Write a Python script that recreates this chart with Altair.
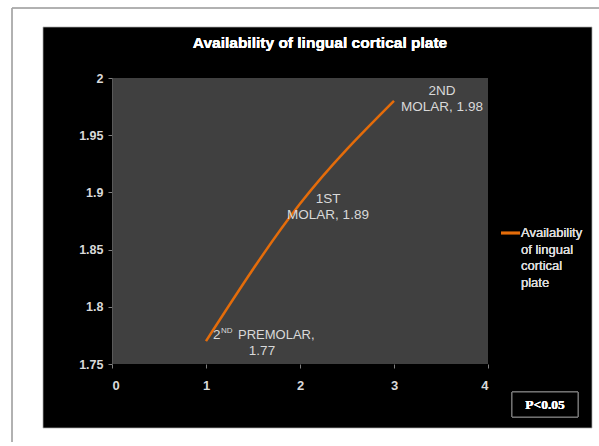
import altair as alt
import pandas as pd

# Tooth positions along the arch and the measured availability values
positions = [1, 2, 3]
availability = [1.77, 1.89, 1.98]
series_name = "Availability of lingual cortical plate"

x_ticks = [0, 1, 2, 3, 4]
y_ticks = [1.75, 1.8, 1.85, 1.9, 1.95, 2.0]

df = pd.DataFrame({"pos": positions, "val": availability})

FONT = "Liberation Sans"
LABEL_COLOR = "#d9d9d9"
LINE_COLOR = "#e46c0a"

W, H = 376, 286
PAD = {"left": 112, "top": 78, "right": 599 - 112 - W, "bottom": 446 - 78 - H}

x_scale = alt.Scale(domain=[0, 4], nice=False, zero=False)
y_scale = alt.Scale(domain=[1.75, 2.0], nice=False, zero=False)

x_enc = alt.X("pos:Q", scale=x_scale, axis=alt.Axis(
    values=x_ticks, title=None, format="d", grid=False, zindex=1,
    domain=False, tickColor="#7f7f7f", tickSize=4,
    labelColor=LABEL_COLOR, labelFont=FONT, labelFontSize=13, labelPadding=11,
    labelFontWeight="bold"))
y_enc = alt.Y("val:Q", scale=y_scale, axis=alt.Axis(
    values=y_ticks, title=None, grid=False, zindex=1,
    labelExpr="datum.value == 2 ? '2' : format(datum.value, '.2~f')",
    domainColor="#595959", tickColor="#7f7f7f", tickSize=4,
    labelColor=LABEL_COLOR, labelFont=FONT, labelFontSize=12.5, labelPadding=5,
    labelFontWeight="bold"))

# Page furniture: outer frame lines and the black chart panel
frame_top = alt.Chart(df).mark_rule(color="#a6a6a6", strokeWidth=1).encode(
    x=alt.value(-100), x2=alt.value(W + PAD["right"]), y=alt.value(-70))
frame_left = alt.Chart(df).mark_rule(color="#a6a6a6", strokeWidth=1).encode(
    x=alt.value(-100), y=alt.value(-70), y2=alt.value(H + 78))
panel = alt.Chart(df).mark_rect(color="black", stroke="#d0d0d0", strokeWidth=0.6).encode(
    x=alt.value(-69), x2=alt.value(480), y=alt.value(-51), y2=alt.value(350))
plot_bg = alt.Chart(df).mark_rect(color="#404040").encode(
    x=alt.value(0), x2=alt.value(W), y=alt.value(0), y2=alt.value(H))

title = alt.Chart(df).mark_text(
    text=series_name, color="white", font=FONT, fontSize=15.5, fontWeight="bold",
    align="center", baseline="middle").encode(x=alt.value(208), y=alt.value(-35))

line = alt.Chart(df).mark_line(
    color=LINE_COLOR, strokeWidth=2.5, interpolate="monotone").encode(x=x_enc, y=y_enc)

def point_label(i, lines, dx, dy, align="center", size=13.5):
    sub = pd.DataFrame({"pos": [positions[i]], "val": [availability[i]]})
    return alt.Chart(sub).mark_text(
        text=lines, color=LABEL_COLOR, font=FONT, fontSize=size, lineHeight=16,
        align=align, baseline="middle", dx=dx, dy=dy).encode(
        x=alt.X("pos:Q", scale=x_scale), y=alt.Y("val:Q", scale=y_scale))

# 2nd premolar: "2" + superscript "ND" + "PREMOLAR," then the value below
label_pm_2 = point_label(0, ["2"], 7, -6, align="left")
label_pm_nd = point_label(0, ["ND"], 15, -10, align="left", size=8)
label_pm_word = point_label(0, ["PREMOLAR,"], 32, -6, align="left", size=13)
label_pm_val = point_label(0, ["1.77"], 56, 10)
label_m1 = point_label(1, ["1ST", "MOLAR, 1.89"], 28, -5)
label_m2 = point_label(2, ["2ND", "MOLAR, 1.98"], 48, -10)

# Legend entry to the right of the plot
legend_line = alt.Chart(df).mark_rule(color=LINE_COLOR, strokeWidth=2.5).encode(
    x=alt.value(W + 13), x2=alt.value(W + 32), y=alt.value(155))
legend_text = alt.Chart(df).mark_text(
    text=["Availability", "of lingual", "cortical", "plate"], color=LABEL_COLOR,
    font=FONT, fontSize=13, lineHeight=16.5, align="left", baseline="middle").encode(
    x=alt.value(W + 33), y=alt.value(155))

# Significance note in the lower right corner
p_box = alt.Chart(df).mark_rect(color="black", stroke="#808080", strokeWidth=1).encode(
    x=alt.value(400), x2=alt.value(466), y=alt.value(314), y2=alt.value(339))
p_text = alt.Chart(df).mark_text(
    text="P<0.05", color="white", font="Liberation Serif", fontSize=13.5,
    fontWeight="bold", align="center", baseline="middle").encode(
    x=alt.value(433), y=alt.value(327))

chart = alt.layer(
    frame_top, frame_left, panel, plot_bg, title, line,
    label_pm_2, label_pm_nd, label_pm_word, label_pm_val, label_m1, label_m2,
    legend_line, legend_text, p_box, p_text,
).properties(
    width=W, height=H, padding=PAD, background="white",
    autosize=alt.AutoSizeParams(type="none"),
).configure_view(stroke=None)

chart.save("out.html", embed_options={"renderer": "svg", "actions": False})
